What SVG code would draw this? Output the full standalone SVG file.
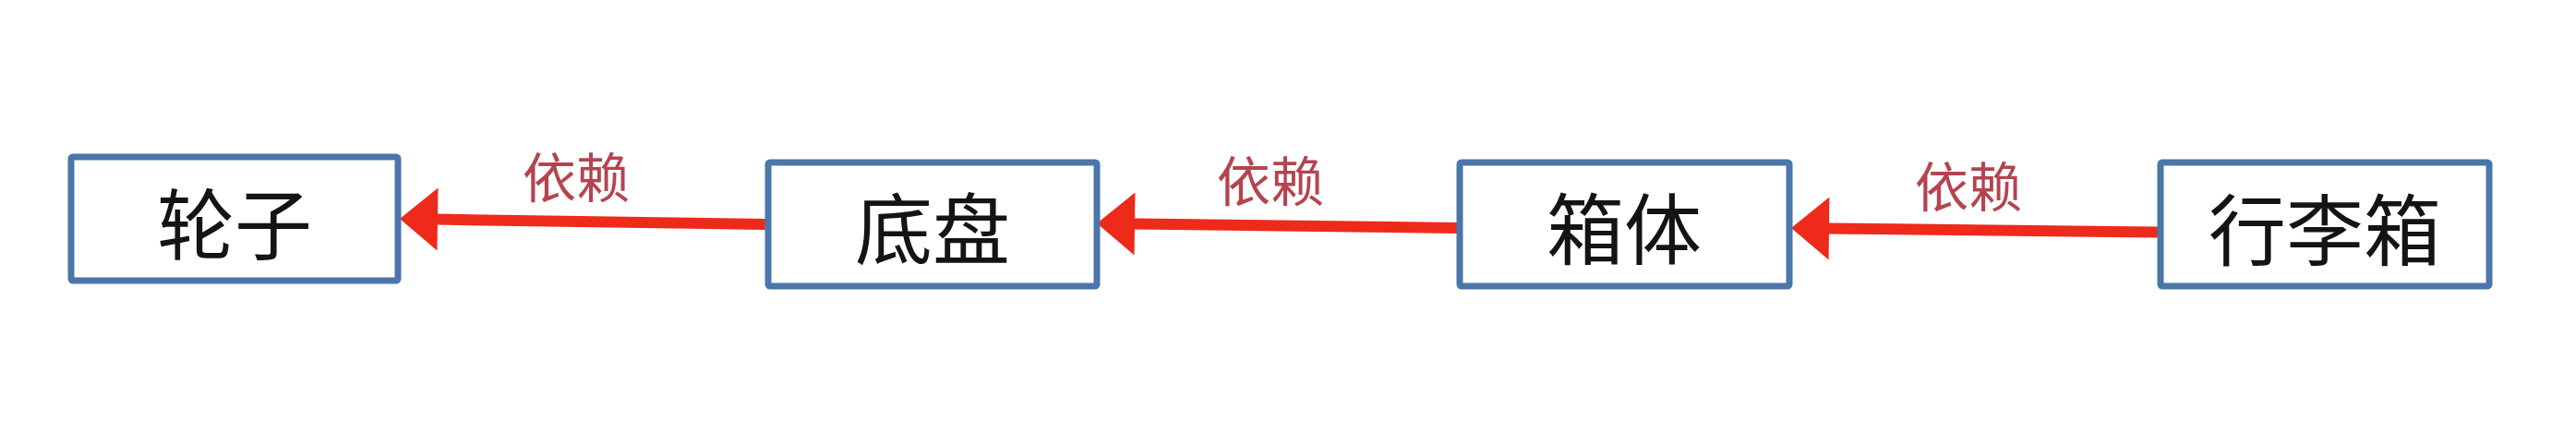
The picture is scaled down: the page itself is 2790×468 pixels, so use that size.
<svg xmlns="http://www.w3.org/2000/svg" width="2790" height="468" viewBox="0 0 2790 468">
  <defs>
    <style>
      .box { fill: #ffffff; stroke: #4A76AA; stroke-width: 7; }
      .boxtext { font-family: "Noto Sans CJK SC", "Noto Sans", sans-serif; font-size: 84px; fill: #141414; text-anchor: middle; }
      .label { font-family: "Noto Sans CJK SC", "Noto Sans", sans-serif; font-size: 58px; fill: #B5444F; text-anchor: middle; }
      .conn { stroke: #EE2A1B; stroke-width: 12; fill: none; marker-end: url(#head); }
    </style>
    <marker id="head" markerUnits="userSpaceOnUse" markerWidth="42" markerHeight="68" viewBox="0 0 42 68" refX="1" refY="34" orient="auto" overflow="visible">
      <path d="M0,0 L41,34 L0,68 Z" fill="#EE2A1B"/>
    </marker>
  </defs>
  <rect width="2790" height="468" fill="#ffffff"/>

  <g id="connectors">
    <g id="edge-chassis-wheels">
      <line class="conn" x1="829" y1="243" x2="473" y2="237.6"/>
      <text class="label" x="624" y="213.5">依赖</text>
    </g>
    <g id="edge-body-chassis">
      <line class="conn" x1="1580" y1="247" x2="1228" y2="242.5"/>
      <text class="label" x="1376" y="218">依赖</text>
    </g>
    <g id="edge-suitcase-body">
      <line class="conn" x1="2338" y1="251.5" x2="1980" y2="247.5"/>
      <text class="label" x="2132" y="223.5">依赖</text>
    </g>
  </g>

  <g id="node-wheels">
    <rect class="box" x="77" y="170" width="354" height="134" rx="2"/>
    <text class="boxtext" x="254" y="275">轮子</text>
  </g>
  <g id="node-chassis">
    <rect class="box" x="832" y="176" width="356" height="134" rx="2"/>
    <text class="boxtext" x="1010" y="280">底盘</text>
  </g>
  <g id="node-body">
    <rect class="box" x="1581" y="176" width="357" height="134" rx="2"/>
    <text class="boxtext" x="1759" y="279.5">箱体</text>
  </g>
  <g id="node-suitcase">
    <rect class="box" x="2340" y="176" width="356" height="134" rx="2"/>
    <text class="boxtext" x="2518" y="280.5">行李箱</text>
  </g>
</svg>
